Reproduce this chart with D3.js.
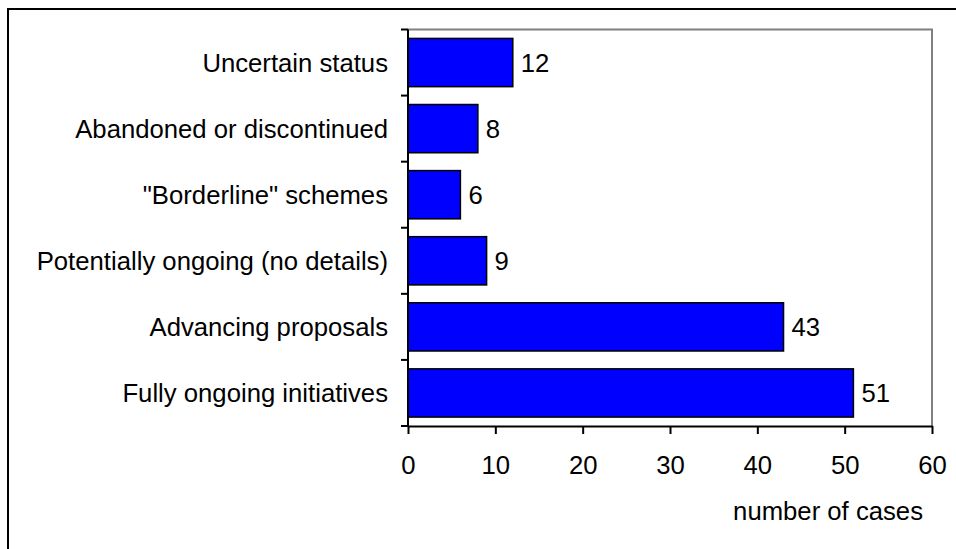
<!DOCTYPE html>
<html>
<head>
<meta charset="utf-8">
<script src="https://cdn.jsdelivr.net/npm/d3@7"></script>
<style>
  html, body { margin: 0; padding: 0; background: #fff; }
  svg { display: block; }
  text { font-family: "Liberation Sans", Arial, sans-serif; fill: #000; }
</style>
</head>
<body>
<svg id="chart" width="956" height="549"></svg>
<script>
const categories = [
  "Uncertain status",
  "Abandoned or discontinued",
  "\"Borderline\" schemes",
  "Potentially ongoing (no details)",
  "Advancing proposals",
  "Fully ongoing initiatives"
];
const values = [12, 8, 6, 9, 43, 51];
const xTicks = [0, 10, 20, 30, 40, 50, 60];
const xTitle = "number of cases";

const W = 956, H = 549;
const plot = { left: 408, top: 29.5, right: 932, bottom: 426 };
const fontSize = 25.7;

const svg = d3.select("#chart");

// outer frame
svg.append("rect")
  .attr("x", 8).attr("y", 9)
  .attr("width", W + 20).attr("height", H + 20)
  .attr("fill", "none").attr("stroke", "#000").attr("stroke-width", 2);

const x = d3.scaleLinear().domain([0, 60]).range([plot.left, plot.right]);
const y = d3.scaleBand().domain(categories).range([plot.top, plot.bottom])
  .paddingInner(0.27).paddingOuter(0.135);

// plot area gray border (top & right)
svg.append("path")
  .attr("d", `M${plot.left},${plot.top}H${plot.right}V${plot.bottom}`)
  .attr("fill", "none").attr("stroke", "#808080").attr("stroke-width", 2);

// bars
const data = categories.map((c, i) => ({ c, v: values[i] }));
svg.append("g").selectAll("rect").data(data).join("rect")
  .attr("x", x(0))
  .attr("y", d => y(d.c))
  .attr("width", d => x(d.v) - x(0))
  .attr("height", y.bandwidth())
  .attr("fill", "#0000FF")
  .attr("stroke", "#000")
  .attr("stroke-width", 1.5);

// value labels
svg.append("g").selectAll("text").data(data).join("text")
  .attr("x", d => x(d.v) + 8)
  .attr("y", d => y(d.c) + y.bandwidth() / 2)
  .attr("dy", "0.36em")
  .attr("font-size", fontSize)
  .text(d => d.v);

// y axis: line + boundary ticks
const boundaries = d3.range(categories.length + 1).map(i => plot.top + i * (plot.bottom - plot.top) / categories.length);
const gy = svg.append("g");
gy.append("line")
  .attr("x1", plot.left).attr("x2", plot.left)
  .attr("y1", plot.top).attr("y2", plot.bottom)
  .attr("stroke", "#000").attr("stroke-width", 2);
gy.selectAll("line.tk").data(boundaries).join("line").attr("class", "tk")
  .attr("x1", plot.left - 7).attr("x2", plot.left)
  .attr("y1", d => d).attr("y2", d => d)
  .attr("stroke", "#000").attr("stroke-width", 2);
gy.selectAll("text").data(categories).join("text")
  .attr("x", plot.left - 20)
  .attr("y", d => y(d) + y.bandwidth() / 2)
  .attr("dy", "0.36em")
  .attr("text-anchor", "end")
  .attr("font-size", fontSize)
  .text(d => d);

// x axis
const gx = svg.append("g").attr("transform", `translate(0,${plot.bottom})`)
  .call(d3.axisBottom(x).tickValues(xTicks).tickSize(8).tickPadding(22).tickSizeOuter(0));
gx.select(".domain").attr("stroke", "#000").attr("stroke-width", 2);
gx.selectAll(".tick line").attr("stroke", "#000").attr("stroke-width", 2);
gx.selectAll(".tick text").attr("font-size", fontSize).attr("fill", "#000")
  .attr("font-family", "Liberation Sans, Arial, sans-serif");

// x title
svg.append("text")
  .attr("x", 923).attr("y", 520)
  .attr("text-anchor", "end")
  .attr("font-size", fontSize)
  .text(xTitle);
</script>
</body>
</html>
